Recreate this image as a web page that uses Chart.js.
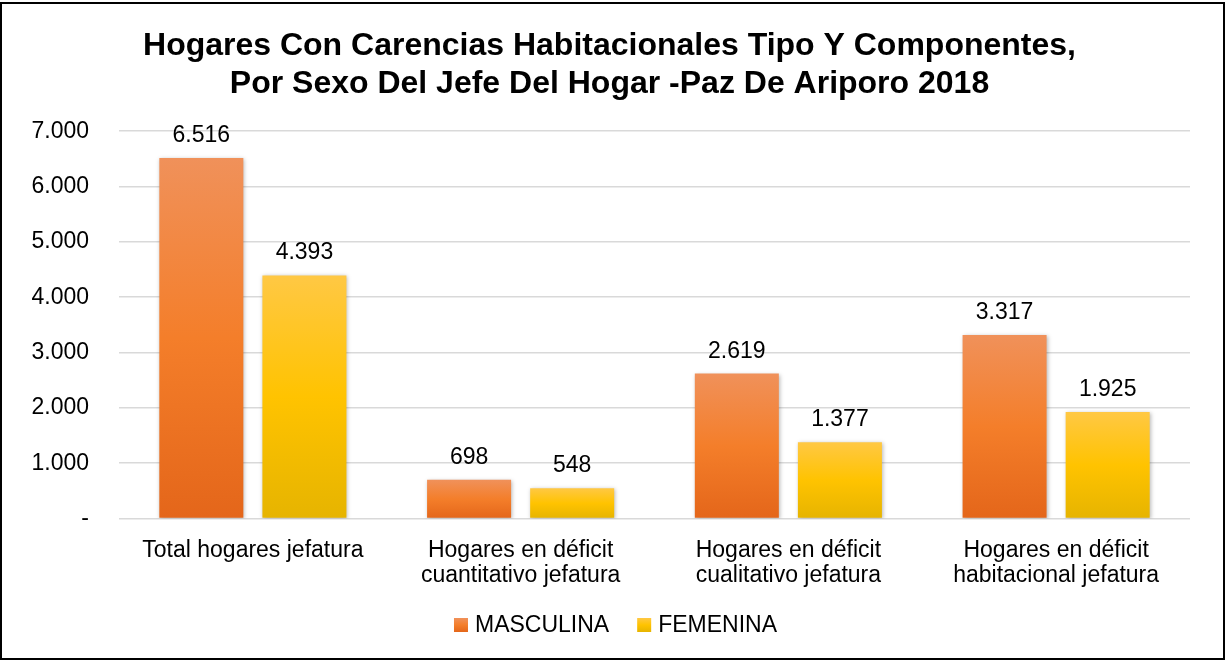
<!DOCTYPE html>
<html>
<head>
<meta charset="utf-8">
<script src="https://cdn.jsdelivr.net/npm/chart.js@4.4.1/dist/chart.umd.min.js"></script>
<style>
  html, body { margin: 0; padding: 0; background: #fff; }
  #frame {
    position: absolute; left: 0; top: 2px;
    width: 1221px; height: 654px;
    border: 2px solid #000; background: #fff;
  }
  #chart { display: block; }
</style>
</head>
<body>
<div id="frame"><canvas id="chart" width="1221" height="654"></canvas></div>
<script>
const titleLines = [
  "Hogares Con Carencias Habitacionales Tipo Y Componentes,",
  "Por Sexo Del Jefe Del Hogar -Paz De Ariporo 2018",
];
const categories = [
  ["Total hogares jefatura"],
  ["Hogares en déficit", "cuantitativo jefatura"],
  ["Hogares en déficit", "cualitativo jefatura"],
  ["Hogares en déficit", "habitacional jefatura"],
];
const seriesNames = ["MASCULINA", "FEMENINA"];
const masculina = [6516, 698, 2619, 3317];
const femenina = [4393, 548, 1377, 1925];

// top / middle / bottom colours of each bar's gradient
const orangeStops = ["#f0915a", "#f47e2a", "#e4661a"];
const yellowStops = ["#ffc844", "#ffc300", "#e6b400"];

const FONT = "'Liberation Sans', Arial, sans-serif";

const fmt = (v) => {
  if (v === 0) return "-";
  return v.toLocaleString("de-DE");
};

const barGradient = (stops) => (ctx) => {
  const chart = ctx.chart;
  const y = chart.scales?.y;
  if (!y || ctx.type !== "data") return stops[1];
  const top = y.getPixelForValue(ctx.raw);
  const bottom = y.getPixelForValue(0);
  if (!isFinite(top) || !isFinite(bottom) || top === bottom) return stops[1];
  const g = chart.ctx.createLinearGradient(0, top, 0, bottom);
  g.addColorStop(0, stops[0]);
  g.addColorStop(0.5, stops[1]);
  g.addColorStop(1, stops[2]);
  return g;
};

// value labels above bars
const valueLabels = {
  id: "valueLabels",
  afterDatasetsDraw(chart) {
    const ctx = chart.ctx;
    ctx.save();
    ctx.font = "23px " + FONT;
    ctx.fillStyle = "#000";
    ctx.textAlign = "center";
    ctx.textBaseline = "alphabetic";
    chart.data.datasets.forEach((ds, i) => {
      chart.getDatasetMeta(i).data.forEach((bar, j) => {
        ctx.fillText(fmt(ds.data[j]), bar.x, bar.y - 16);
      });
    });
    ctx.restore();
  },
};

// soft shadow behind the bars
const barShadow = {
  id: "barShadow",
  beforeDatasetsDraw(chart) {
    const ctx = chart.ctx;
    ctx.save();
    ctx.shadowColor = "rgba(0,0,0,0.28)";
    ctx.shadowBlur = 4;
    ctx.shadowOffsetX = 1;
    ctx.shadowOffsetY = 1;
  },
  afterDatasetsDraw(chart) {
    chart.ctx.restore();
  },
};

// bottom legend, drawn by hand so box/text spacing matches
const bottomLegend = {
  id: "bottomLegend",
  afterDraw(chart) {
    const ctx = chart.ctx;
    const box = 14, gap = 7, between = 28;
    const stops = [orangeStops, yellowStops];
    ctx.save();
    ctx.font = "23px " + FONT;
    const items = chart.data.datasets.map((ds, i) => ({
      text: ds.label,
      stops: stops[i],
      w: ctx.measureText(ds.label).width,
    }));
    const total = items.reduce((a, it) => a + box + gap + it.w, 0) + between * (items.length - 1);
    let x = chart.width / 2 + 3 - total / 2;
    const cy = 621;
    ctx.textBaseline = "middle";
    ctx.textAlign = "left";
    items.forEach((it) => {
      const g = ctx.createLinearGradient(0, cy - box / 2, 0, cy + box / 2);
      g.addColorStop(0, it.stops[0]);
      g.addColorStop(0.5, it.stops[1]);
      g.addColorStop(1, it.stops[2]);
      ctx.fillStyle = g;
      ctx.fillRect(x, cy - box / 2, box, box);
      ctx.fillStyle = "#000";
      ctx.fillText(it.text, x + box + gap, cy + 1);
      x += box + gap + it.w + between;
    });
    ctx.restore();
  },
};

new Chart(document.getElementById("chart"), {
  type: "bar",
  data: {
    labels: categories,
    datasets: [
      {
        label: seriesNames[0],
        data: masculina,
        backgroundColor: barGradient(orangeStops),
        categoryPercentage: 0.77,
        barPercentage: 0.815,
      },
      {
        label: seriesNames[1],
        data: femenina,
        backgroundColor: barGradient(yellowStops),
        categoryPercentage: 0.77,
        barPercentage: 0.815,
      },
    ],
  },
  options: {
    responsive: false,
    animation: false,
    layout: { padding: { left: 27, right: 33, top: 8, bottom: 58 } },
    plugins: {
      title: {
        display: true,
        text: titleLines,
        color: "#000",
        font: { family: FONT, size: 32, weight: "bold", lineHeight: 1.16 },
        padding: { top: 16, bottom: 29 },
      },
      legend: { display: false },
      tooltip: { enabled: false },
    },
    scales: {
      x: {
        grid: { display: false },
        border: { display: false },
        ticks: {
          color: "#000",
          font: { family: FONT, size: 23, lineHeight: 1.12 },
          padding: 11,
        },
      },
      y: {
        min: 0,
        max: 7000,
        afterFit: (scale) => {
          scale.width = 90;
        },
        grid: { color: "#d9d9d9", lineWidth: 1.5, drawTicks: false },
        border: { display: false },
        ticks: {
          stepSize: 1000,
          color: "#000",
          font: { family: FONT, size: 23 },
          padding: 30,
          callback: (v) => fmt(v),
        },
      },
    },
  },
  plugins: [barShadow, valueLabels, bottomLegend],
});
</script>
</body>
</html>
